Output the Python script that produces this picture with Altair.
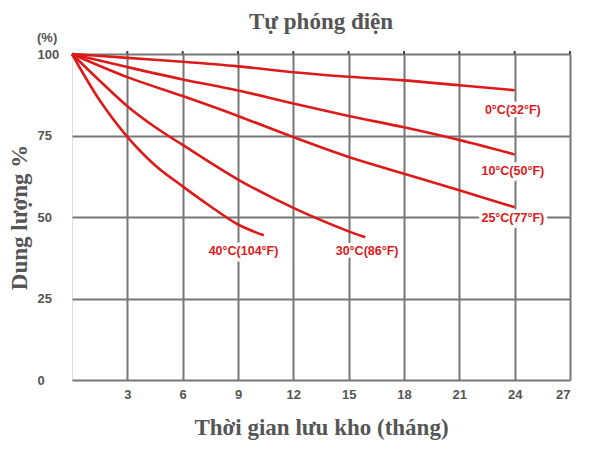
import altair as alt
import pandas as pd

# Curves (months, % capacity)
m_0c = [0, 3, 6, 9, 12, 15, 18, 21, 24]
p_0c = [100, 98.8, 97.6, 96.2, 94.4, 93.0, 91.9, 90.4, 88.9]
m_10c = [0, 3, 6, 9, 12, 15, 18, 21, 24]
p_10c = [100, 96.0, 92.2, 88.8, 84.8, 81.0, 77.5, 73.6, 69.2]
m_25c = [0, 3, 6, 9, 12, 15, 18, 21, 24]
p_25c = [100, 92.9, 87.1, 81.0, 74.5, 68.4, 63.3, 58.2, 53.0]
m_30c = [0, 1.5, 3, 4.5, 6, 9, 12, 15, 15.9]
p_30c = [100, 91.8, 84.0, 77.6, 72.1, 61.5, 52.8, 45.6, 43.8]
m_40c = [0, 1.5, 3, 4.5, 6, 7.5, 9, 10.4]
p_40c = [100, 85.8, 74.6, 65.9, 59.4, 53.3, 47.7, 44.4]

series_names = ["0°C(32°F)", "10°C(50°F)", "25°C(77°F)", "30°C(86°F)", "40°C(104°F)"]
series_months = [m_0c, m_10c, m_25c, m_30c, m_40c]
series_pcts = [p_0c, p_10c, p_25c, p_30c, p_40c]

# Curve label anchors (months, %)
label_x = [23.9, 23.9, 23.9, 16.0, 9.3]
label_y = [82.8, 64.2, 49.6, 39.6, 39.6]

x_ticks = [3, 6, 9, 12, 15, 18, 21, 24, 27]
y_ticks = [0, 25, 50, 75, 100]

chart_title = "Tự phóng điện"
x_title = "Thời gian lưu kho (tháng)"
y_title = "Dung lượng %"
unit_text = "(%)"

rows = []
for name, ms, ps in zip(series_names, series_months, series_pcts):
    for m, p in zip(ms, ps):
        rows.append({"series": name, "month": m, "pct": p})
df = pd.DataFrame(rows)
labels_df = pd.DataFrame({"series": series_names, "month": label_x, "pct": label_y})
ticks_df = pd.DataFrame({"month": x_ticks})

GRAY = "#777777"
TXT = "#555555"
RED = "#dd1a1a"
W, H = 498, 326

xs = alt.Scale(domain=[0, 27], nice=False, zero=True)
ys = alt.Scale(domain=[0, 100], nice=False)

X = alt.X("month:Q", scale=xs, axis=alt.Axis(
    values=x_ticks, grid=True, gridColor=GRAY, gridWidth=2, ticks=False, domain=False,
    labelFont="Liberation Sans", labelFontWeight="bold", labelFontSize=13, labelColor=TXT,
    labelPadding=8, title=x_title, titleFont="Liberation Serif",
    titleFontSize=23, titleFontWeight="bold", titleColor=TXT, titleX=W / 2, titleY=47,
    titleBaseline="middle", titleAlign="center"))
Y = alt.Y("pct:Q", scale=ys, axis=alt.Axis(
    values=y_ticks, grid=True, gridColor=GRAY, gridWidth=2, ticks=False, domain=False,
    labelFont="Liberation Sans", labelFontWeight="bold", labelFontSize=13, labelColor=TXT,
    labelAlign="left", labelPadding=35, labelBaseline="middle",
    title=y_title, titleFont="Liberation Serif", titleFontSize=23,
    titleFontWeight="bold", titleColor=TXT, titleX=-53, titleY=H / 2, titleAngle=270,
    titleBaseline="middle", titleAlign="center"))

lines = alt.Chart(df).mark_line(color=RED, strokeWidth=2.6, interpolate="catmull-rom").encode(
    detail="series:N")

top_ticks = alt.Chart(ticks_df).mark_rule(color="#444444", strokeWidth=2).encode(
    x="month:Q", y=alt.value(-3), y2=alt.value(0))

halo = alt.Chart(labels_df).mark_text(
    font="Liberation Sans", fontWeight="bold", fontSize=12.5, color="white",
    stroke="white", strokeWidth=7, strokeJoin="round").encode(text="series:N")
texts = alt.Chart(labels_df).mark_text(
    font="Liberation Sans", fontWeight="bold", fontSize=12.5, color=RED).encode(
    text="series:N")

unit = alt.Chart(pd.DataFrame({"t": [unit_text]})).mark_text(
    font="Liberation Sans", fontWeight="bold", fontSize=13, color=TXT, align="left",
    baseline="middle").encode(
    x=alt.value(-35), y=alt.value(-16), text="t:N")

title = alt.Chart(pd.DataFrame({"t": [chart_title]})).mark_text(
    font="Liberation Serif", fontWeight="bold", fontSize=23, color=TXT, align="center",
    baseline="middle").encode(
    x=alt.value(W / 2), y=alt.value(-32), text="t:N")

chart = alt.layer(lines, top_ticks, halo, texts, unit, title).encode(x=X, y=Y).properties(
    width=W, height=H,
    autosize=alt.AutoSizeParams(type="none"),
    padding={"left": 64, "top": 46, "right": 20, "bottom": 60},
).configure_view(stroke=GRAY, strokeWidth=2).configure(background="white")

chart.save("out.html", embed_options={"renderer": "svg", "actions": False})
